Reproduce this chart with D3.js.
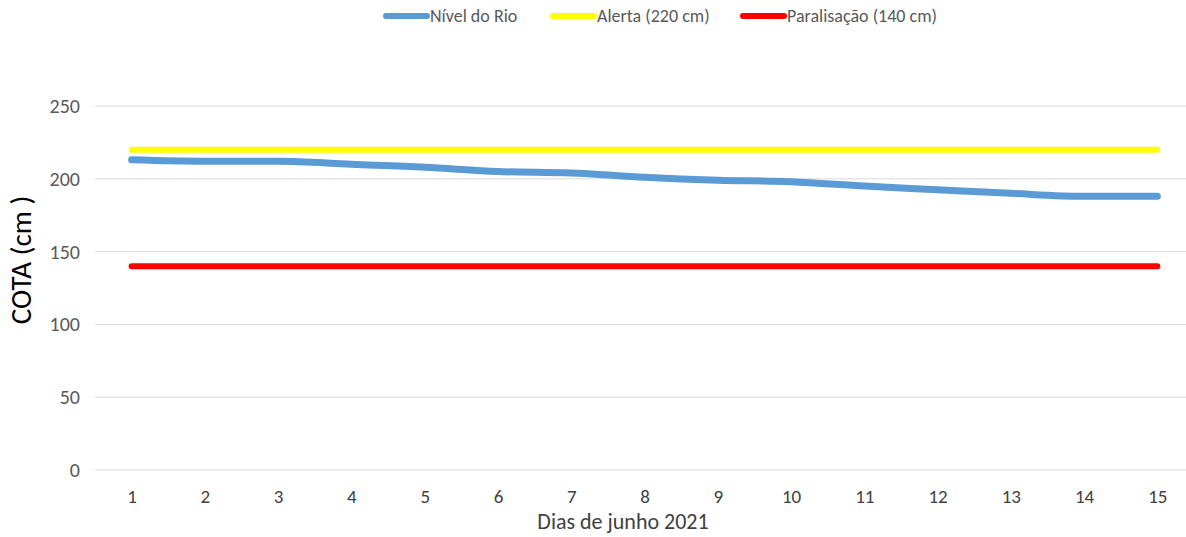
<!DOCTYPE html>
<html>
<head>
<meta charset="utf-8">
<script src="https://cdn.jsdelivr.net/npm/d3@7"></script>
<style>
  body { margin: 0; background: #fff; }
  svg { display: block; font-family: Carlito, 'Liberation Sans Narrow', 'Open Sans', sans-serif; }
</style>
</head>
<body>
<div class="chart"></div>
<script>
const dias = ['1','2','3','4','5','6','7','8','9','10','11','12','13','14','15'];
const nivelRio = [213, 212, 212, 210, 208, 205, 204, 201, 199, 198, 195, 192.5, 190, 188, 188];
const alerta = [220, 220, 220, 220, 220, 220, 220, 220, 220, 220, 220, 220, 220, 220, 220];
const paralisacao = [140, 140, 140, 140, 140, 140, 140, 140, 140, 140, 140, 140, 140, 140, 140];
const yTicks = [0, 50, 100, 150, 200, 250];

const w = 1186;
const h = 537;

const xScale = d3.scalePoint()
                 .domain(dias)
                 .range([95, 1194])
                 .padding(0.5);
const yScale = d3.scaleLinear()
                 .domain([0, 250])
                 .range([470, 106]);

const svg = d3.select('div.chart')
              .append('svg')
              .attr('width', w)
              .attr('height', h);

// grid
svg.append('g')
   .selectAll('line')
   .data(yTicks)
   .enter()
   .append('line')
   .attr('x1', 95)
   .attr('x2', w)
   .attr('y1', d => yScale(d))
   .attr('y2', d => yScale(d))
   .attr('stroke', '#d9d9d9')
   .attr('stroke-width', 1);

// y axis labels
const yAxis = d3.axisLeft(yScale).tickValues(yTicks).tickSize(0).tickPadding(0);
const gy = svg.append('g')
   .attr('transform', 'translate(80,0)')
   .call(yAxis);
gy.select('.domain').remove();
gy.selectAll('text')
  .attr('fill', '#595959')
  .attr('dy', '0.32em')
  .style('font-size', '20px')
  .style('font-family', 'Carlito, sans-serif');

// x axis labels
const xAxis = d3.axisBottom(xScale).tickSize(0).tickPadding(0);
const gx = svg.append('g')
   .attr('transform', 'translate(0,503)')
   .call(xAxis);
gx.select('.domain').remove();
gx.selectAll('text')
  .attr('y', 0)
  .attr('dy', 0)
  .attr('fill', '#404040')
  .style('font-size', '19px')
  .style('font-family', 'Carlito, sans-serif');

// titles
svg.append('text')
   .attr('x', 623)
   .attr('y', 529)
   .attr('text-anchor', 'middle')
   .attr('fill', '#404040')
   .style('font-size', '22px')
   .text('Dias de junho 2021');

svg.append('text')
   .attr('transform', 'translate(31,260) rotate(-90)')
   .attr('text-anchor', 'middle')
   .attr('fill', '#000')
   .style('font-size', '29px')
   .text('COTA (cm )');

// series
const series = [
  {name: 'Alerta (220 cm)', values: alerta, color: '#ffff00', width: 6},
  {name: 'Paralisação (140 cm)', values: paralisacao, color: '#ff0000', width: 6},
  {name: 'Nível do Rio', values: nivelRio, color: '#5b9bd5', width: 7}
];

const line = d3.line()
   .x((d, i) => xScale(dias[i]))
   .y(d => yScale(d))
   .curve(d3.curveMonotoneX);

svg.selectAll('path.serie')
   .data(series)
   .enter()
   .append('path')
   .attr('class', 'serie')
   .attr('d', d => line(d.values))
   .attr('fill', 'none')
   .attr('stroke', d => d.color)
   .attr('stroke-width', d => d.width)
   .attr('stroke-linecap', 'round')
   .attr('stroke-linejoin', 'round');

// legend
const legend = [
  {name: 'Nível do Rio', color: '#5b9bd5', x: 386},
  {name: 'Alerta (220 cm)', color: '#ffff00', x: 553},
  {name: 'Paralisação (140 cm)', color: '#ff0000', x: 743}
];
const lg = svg.append('g')
   .selectAll('g')
   .data(legend)
   .enter()
   .append('g')
   .attr('transform', d => 'translate(' + d.x + ',16)');
lg.append('line')
   .attr('x1', 0)
   .attr('x2', 41)
   .attr('stroke', d => d.color)
   .attr('stroke-width', 6)
   .attr('stroke-linecap', 'round');
lg.append('text')
   .attr('x', 44)
   .attr('dy', '0.33em')
   .attr('fill', '#595959')
   .style('font-size', '18px')
   .text(d => d.name);
</script>
</body>
</html>
